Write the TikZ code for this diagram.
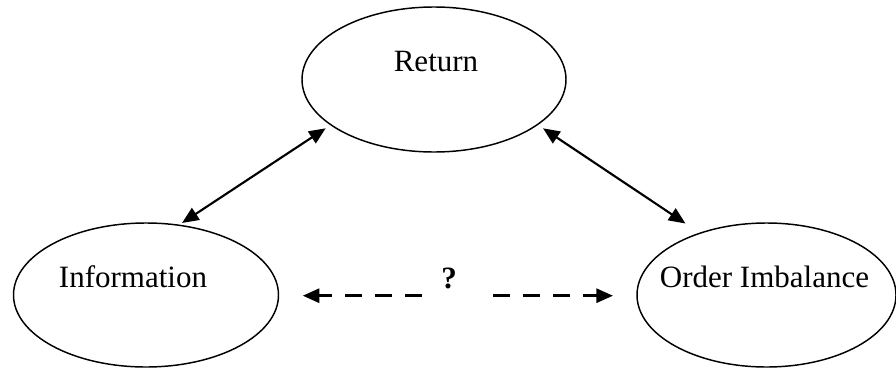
\documentclass[tikz,border=0pt]{standalone}
\usepackage{fontspec}
\setmainfont{Liberation Serif}
\usetikzlibrary{shapes.geometric,arrows.meta,calc}
\begin{document}
\begin{tikzpicture}[x=0.75pt,y=-0.75pt,
  oval/.style={draw,ellipse,line width=1.1pt,inner sep=0pt},
  lbl/.style={anchor=base,inner sep=0pt,font=\fontsize{23.25}{28}\selectfont},
  head/.tip={Triangle[length=12.5pt,width=10.5pt]},
  link/.style={line width=1.6pt,head-head},
  maybe/.style={line width=2.25pt,dash pattern=on 12.75pt off 9.75pt,-head}]
\useasboundingbox (0,0) rectangle (896,371);
\node[oval,minimum width=198pt,minimum height=108.75pt] (ret) at (434,79.5) {};
\node[oval,minimum width=198.75pt,minimum height=108pt] (info) at (146,295) {};
\node[oval,minimum width=194.25pt,minimum height=108pt] (ord) at (766.5,295) {};
\node[lbl] (retT) at (436,71) {Return};
\node[lbl] (infoT) at (133,287) {Information};
\node[lbl] (ordT) at (764.5,287) {Order Imbalance};
\node[lbl,font=\fontsize{23.25}{28}\selectfont\bfseries] (q) at (449,288) {?};
\draw[link] ($(info.center)+(36,-72)$) -- ($(ret.center)+(-108.3,48.8)$);
\draw[link] ($(ret.center)+(109,48.8)$) -- ($(ord.center)+(-81,-71.5)$);
\coordinate (la) at (421.7,295.7);
\coordinate (lb) at (302.7,295.7);
\coordinate (ra) at (493,295.7);
\coordinate (rb) at (613,295.7);
\draw[maybe] (la) -- (lb);
\draw[maybe] (ra) -- (rb);
\end{tikzpicture}
\end{document}
